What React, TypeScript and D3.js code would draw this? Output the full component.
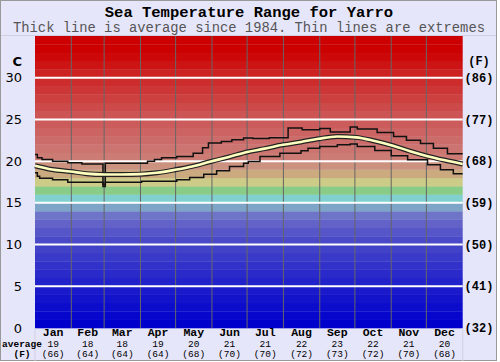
import React from "react";
import * as d3 from "d3";

const months = ["Jan", "Feb", "Mar", "Apr", "May", "Jun", "Jul", "Aug", "Sep", "Oct", "Nov", "Dec"];
const monthStarts = [0, 31, 59, 90, 120, 151, 181, 212, 243, 273, 304, 334, 365];
const monthAvgC = [19, 18, 18, 19, 20, 21, 21, 22, 23, 22, 21, 20];
const monthAvgF = [66, 64, 64, 64, 68, 70, 70, 72, 73, 72, 70, 68];

const ticksC = [0, 5, 10, 15, 20, 25, 30];
const ticksF = [32, 41, 50, 59, 68, 77, 86];

// average (thick line), day-of-year vs °C
const avgDays = [0, 14.5, 30, 44, 59, 74, 90, 104, 119.5, 135, 150, 165.5, 181, 196, 211.5, 227, 242, 258, 274, 289, 305.5, 320, 335, 350, 365];
const avgTemps = [19.45, 19.0, 18.76, 18.5, 18.4, 18.4, 18.44, 18.6, 18.96, 19.4, 19.96, 20.5, 21.1, 21.5, 21.96, 22.3, 22.68, 22.95, 22.85, 22.45, 21.85, 21.2, 20.6, 20.1, 19.65];

// maximum extremes (step)
const maxDays = [0, 2, 6, 15, 28, 40, 58, 60, 96, 102, 108, 121, 135, 143, 148, 159, 168, 178, 186, 200, 216, 228, 243, 252, 269, 275, 292, 306, 317, 329, 340, 352, 365];
const maxTemps = [20.8, 20.4, 20.2, 20.0, 19.8, 19.65, 17.2, 19.75, 20.0, 20.2, 20.4, 20.56, 20.96, 21.6, 22.16, 22.36, 22.56, 22.76, 22.7, 22.8, 23.96, 23.76, 23.9, 23.5, 24.1, 23.84, 23.44, 22.96, 22.5, 22.1, 21.56, 20.9, 20.9];

// minimum extremes (step)
const minDays = [0, 2, 4, 15, 28, 58, 60, 91, 121, 132, 144, 155, 166, 178, 182, 192, 209, 227, 233, 243, 258, 269, 275, 290, 304, 318, 335, 346, 357, 365];
const minTemps = [18.6, 18.2, 17.96, 17.76, 17.48, 16.96, 17.48, 17.6, 17.76, 18.04, 18.44, 18.84, 19.36, 19.76, 19.96, 20.56, 20.96, 21.24, 21.56, 21.76, 21.96, 22.06, 21.76, 21.28, 20.64, 20.16, 19.56, 18.96, 18.48, 18.48];

const bandColors = [
  "#0000cc", "#0606cc", "#0c0ccc", "#1313cb", "#1a1acb", "#2222cb", "#2a2aca", "#3232ca",
  "#3a3ac9", "#4242c9", "#4a4ac8", "#5656c8", "#6262c8", "#6e74c8", "#7ea4c8", "#80d0d0",
  "#88cc88", "#cccc88", "#ccaa80", "#cc9280", "#cc7c74", "#cc7470", "#cc6c6a", "#cc6464",
  "#cc5c5c", "#cc5454", "#cc4a4a", "#cc4040", "#cc3636", "#cc2c2c", "#cc2222", "#cc1414",
  "#cc0808", "#cc0000", "#cc0000",
];

const W = 500;
const H = 362;
const PL = 35;
const PR = 462.7;
const PT = 36;
const PB = 328;

export default function App() {
  const x = d3.scaleLinear().domain([0, 365]).range([PL, PR]);
  const y = d3.scaleLinear().domain([0, 35]).range([PB, PT]);

  const avgLine = d3
    .line<number>()
    .x((_, i) => x(avgDays[i]))
    .y((d) => y(d))
    .curve(d3.curveMonotoneX);
  const maxLine = d3
    .line<number>()
    .x((_, i) => x(maxDays[i]))
    .y((d) => y(d))
    .curve(d3.curveStepAfter);
  const minLine = d3
    .line<number>()
    .x((_, i) => x(minDays[i]))
    .y((d) => y(d))
    .curve(d3.curveStepAfter);

  const mono = "'Liberation Mono', 'Courier New', monospace";
  const sans = "'DejaVu Sans', Verdana, sans-serif";

  return (
    <svg width={W} height={H} style={{ position: "absolute", left: 0, top: 0, display: "block" }}>
      <rect x={0} y={0} width={W} height={H} fill="#ffffff" />
      <rect x={0.5} y={0.5} width={496} height={360} fill="#e6e6fa" stroke="#999" />
      <line x1={1} x2={496} y1={35.5} y2={35.5} stroke="#d0d0e0" />
      <text x={249} y={17} textAnchor="middle" fontFamily={mono} fontWeight="bold" fontSize={15.5} fill="#000">
        Sea Temperature Range for Yarro
      </text>
      <text x={249} y={31.5} textAnchor="middle" fontFamily={mono} fontSize={13.8} fill="#555">
        Thick line is average since 1984. Thin lines are extremes
      </text>

      {bandColors.map((c, i) => (
        <rect key={i} x={PL} width={PR - PL} y={y(i + 1)} height={y(i) - y(i + 1) + 0.3} fill={c} />
      ))}

      {monthStarts.slice(1, 12).map((d, i) => (
        <line key={i} x1={x(d)} x2={x(d)} y1={PT} y2={PB} stroke="#666" strokeWidth={1} />
      ))}
      <line x1={PL} x2={PL} y1={PB} y2={H - 1} stroke="#d0d0e0" />
      <line x1={PR} x2={PR} y1={PB} y2={H - 1} stroke="#d0d0e0" />

      {ticksC.filter((t) => t > 0).map((t) => (
        <line key={t} x1={PL} x2={PR} y1={y(t)} y2={y(t)} stroke="#fff" strokeWidth={2} />
      ))}

      <path d={maxLine(maxTemps) || ""} fill="none" stroke="#111" strokeWidth={1.5} />
      <path d={minLine(minTemps) || ""} fill="none" stroke="#111" strokeWidth={1.5} />
      <path d={avgLine(avgTemps) || ""} fill="none" stroke="#222" strokeWidth={5} />
      <path d={avgLine(avgTemps) || ""} fill="none" stroke="#ffffc0" strokeWidth={2.6} />

      <text x={22} y={62} textAnchor="end" dominantBaseline="middle" fontFamily={sans} fontSize={13} fontWeight="bold" fill="#000">
        C
      </text>
      {ticksC.map((t) => (
        <text key={t} x={22} y={y(t) + 1} textAnchor="end" dominantBaseline="middle" fontFamily={sans} fontSize={13} fill="#000">
          {t}
        </text>
      ))}
      <text x={479} y={62} textAnchor="middle" dominantBaseline="middle" fontFamily={mono} fontWeight="bold" fontSize={12} fill="#000">
        (F)
      </text>
      {ticksF.map((f, i) => (
        <text key={f} x={479} y={y(ticksC[i]) + 1} textAnchor="middle" dominantBaseline="middle" fontFamily={mono} fontWeight="bold" fontSize={12} fill="#000">
          ({f})
        </text>
      ))}

      {months.map((m, i) => {
        const cx = x((monthStarts[i] + monthStarts[i + 1]) / 2);
        return (
          <g key={m}>
            <text x={cx} y={335.5} textAnchor="middle" fontFamily={mono} fontWeight="bold" fontSize={11.5} fill="#000">
              {m}
            </text>
            <text x={cx} y={346.5} textAnchor="middle" fontFamily={mono} fontSize={9.5} fill="#000">
              {monthAvgC[i]}
            </text>
            <text x={cx} y={356.5} textAnchor="middle" fontFamily={mono} fontSize={9.5} fill="#000">
              ({monthAvgF[i]})
            </text>
          </g>
        );
      })}
      <text x={22} y={346.5} textAnchor="middle" fontFamily={mono} fontWeight="bold" fontSize={9.5} fill="#000">
        average
      </text>
      <text x={22} y={356.5} textAnchor="middle" fontFamily={mono} fontWeight="bold" fontSize={9.5} fill="#000">
        (F)
      </text>
    </svg>
  );
}
